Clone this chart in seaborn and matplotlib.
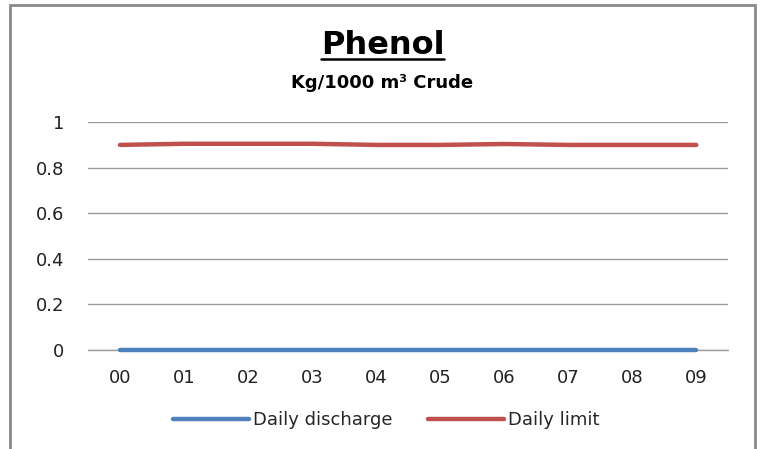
import pandas as pd
import numpy as np
import matplotlib
matplotlib.use("Agg")
import matplotlib.pyplot as plt
import seaborn as sns
from matplotlib.lines import Line2D
from matplotlib.patches import Rectangle

sns.set_style("white")
plt.rcParams['font.family'] = ['DejaVu Sans']

years = ["00", "01", "02", "03", "04", "05", "06", "07", "08", "09"]
discharge = [0, 0, 0, 0, 0, 0, 0, 0, 0, 0]
limit = [0.9, 0.905, 0.905, 0.905, 0.9, 0.9, 0.904, 0.9, 0.9, 0.9]
y_ticks = [0, 0.2, 0.4, 0.6, 0.8, 1]
y_labels = ["0", "0.2", "0.4", "0.6", "0.8", "1"]

df = pd.DataFrame({
    "year": years * 2,
    "value": discharge + limit,
    "series": ["Daily discharge"] * len(years) + ["Daily limit"] * len(years),
})

fig = plt.figure(figsize=(7.65, 4.49), dpi=100)
ax = fig.add_axes([0.115, 0.2205, 0.837, 0.5075])

palette = {"Daily discharge": "#4F81BD", "Daily limit": "#C0504D"}
sns.lineplot(data=df, x="year", y="value", hue="series", palette=palette,
             linewidth=3.2, ax=ax, legend=False, sort=False, zorder=3)
for ln in ax.lines:
    ln.set_clip_on(False)
    ln.set_solid_capstyle("round")

ax.set_xlim(-0.5, len(years) - 0.5)
ax.set_ylim(0, 1)
ax.set_yticks(y_ticks)
ax.set_yticklabels(y_labels)
ax.yaxis.grid(True, color="#9a9a9a", linewidth=1)
ax.axhline(0, color="#9a9a9a", linewidth=1, clip_on=False, zorder=1)
ax.set_axisbelow(True)
for s in ax.spines.values():
    s.set_visible(False)
ax.tick_params(axis="both", length=0, labelsize=13, colors="#222222")
ax.tick_params(axis="y", pad=17)
ax.tick_params(axis="x", pad=14)
ax.set_xlabel("")
ax.set_ylabel("")

# outer frame
fig.patches.append(Rectangle((10 / 765, -0.05), 745 / 765, 1 - 5 / 449 + 0.05,
                             transform=fig.transFigure, fill=False,
                             edgecolor="#8a8a8a", linewidth=2))

t = fig.text(0.5, 1 - 45 / 449, "Phenol", ha="center", va="center",
             fontsize=23, fontweight="bold", color="black")
fig.text(0.5, 1 - 83 / 449, "Kg/1000 m³ Crude", ha="center", va="center",
         fontsize=13, fontweight="bold", color="black")

fig.canvas.draw()
bb = t.get_window_extent().transformed(fig.transFigure.inverted())
fig.add_artist(Line2D([bb.x0, bb.x1], [bb.y0 + 0.004, bb.y0 + 0.004],
                      transform=fig.transFigure, color="black", linewidth=1.8))

handles = [Line2D([], [], color=palette[k], linewidth=3.2) for k in palette]
fig.legend(handles, list(palette), loc="center", bbox_to_anchor=(0.505, 1 - 420 / 449),
           ncol=2, frameon=False, fontsize=13, handlelength=4.2,
           handletextpad=0.2, columnspacing=2.0)

fig.savefig("out.png", dpi=100)
